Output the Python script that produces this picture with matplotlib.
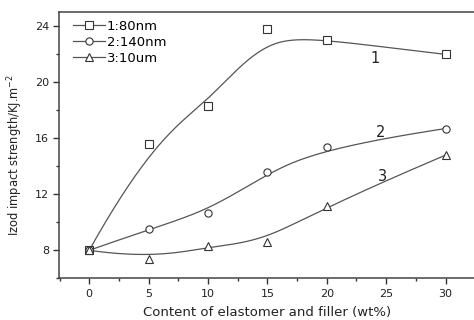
import numpy as np
import matplotlib
matplotlib.use("Agg")
import matplotlib.pyplot as plt
from matplotlib.lines import Line2D
from matplotlib.ticker import MultipleLocator

plt.rcParams['font.family'] = ['DejaVu Sans']

content = [0, 5, 10, 15, 20, 30]
s1_80nm = [8.0, 15.6, 18.3, 23.8, 23.0, 22.0]
s2_140nm = [8.0, 9.5, 10.7, 13.6, 15.4, 16.7]
s3_10um = [8.0, 7.4, 8.3, 8.6, 11.2, 14.8]
labels = ['1:80nm', '2:140nm', '3:10um']
curve_ids = ['1', '2', '3']
xlabel = 'Content of elastomer and filler (wt%)'
ylabel = 'Izod impact strength/KJ.m$^{-2}$'


def bspline(xs, ys, k=3, n=300):
    P = np.column_stack([xs, ys]).astype(float)
    m = len(P)
    inner = np.linspace(0, 1, m - k + 1)[1:-1]
    t = np.concatenate([np.zeros(k + 1), inner, np.ones(k + 1)])
    us = np.linspace(0, 1, n)
    out = []
    for u in us:
        N = np.zeros(len(t) - 1)
        for i in range(len(t) - 1):
            if t[i] <= u < t[i + 1]:
                N[i] = 1.0
        if u >= 1.0:
            N[m - 1] = 1.0
        for d in range(1, k + 1):
            Nn = np.zeros(len(t) - 1 - d)
            for i in range(len(t) - 1 - d):
                a = 0.0
                if t[i + d] != t[i]:
                    a = (u - t[i]) / (t[i + d] - t[i]) * N[i]
                b = 0.0
                if t[i + d + 1] != t[i + 1]:
                    b = (t[i + d + 1] - u) / (t[i + d + 1] - t[i + 1]) * N[i + 1]
                Nn[i] = a + b
            N = Nn
        out.append(N[:m] @ P)
    out = np.array(out)
    return out[:, 0], out[:, 1]


fig = plt.figure(figsize=(4.74, 3.2), dpi=100)
ax = fig.add_axes([0.1251, 0.1303, 0.875, 0.831])

markers = ['s', 'o', '^']
series = [s1_80nm, s2_140nm, s3_10um]
lc = '#555555'
for ys, mk in zip(series, markers):
    cx, cy = bspline(content, ys)
    ax.plot(cx, cy, color=lc, lw=0.9)
    ax.plot(content, ys, linestyle='none', marker=mk, ms=5.2, mfc='white',
            mec='#333333', mew=0.8, clip_on=False, zorder=3)

label_pos = [(24.1, 21.7), (24.5, 16.4), (24.7, 13.3)]
for cid, (lx, ly) in zip(curve_ids, label_pos):
    ax.text(lx, ly, cid, fontsize=10.5, ha='center', va='center', color='#222222')

handles = [Line2D([], [], color=lc, lw=0.9, marker=mk, ms=5.2, mfc='white',
                  mec='#333333', mew=0.8) for mk in markers]
ax.legend(handles, labels, loc='upper left', frameon=False, fontsize=9.5,
          handlelength=2.4, handletextpad=0.15, labelspacing=0.22,
          borderpad=0, borderaxespad=0,
          bbox_to_anchor=(14 / 414.75, 1 - 7.5 / 266))

ax.set_xlim(-2.52, 32.4)
ax.set_ylim(6, 25)
ax.xaxis.set_minor_locator(MultipleLocator(2.5))
ax.yaxis.set_minor_locator(MultipleLocator(2))
ax.set_xticks([0, 5, 10, 15, 20, 25, 30])
ax.set_yticks([8, 12, 16, 20, 24])
ax.tick_params(which='major', direction='out', length=4, width=1, labelsize=8,
               color='#333333', labelcolor='#222222')
ax.tick_params(which='minor', direction='out', length=2.5, width=1, color='#333333')
ax.spines['right'].set_visible(False)
for s in ['left', 'bottom', 'top']:
    ax.spines[s].set_linewidth(1.1)
    ax.spines[s].set_color('#444444')

ax.set_xlabel(xlabel, fontsize=9.5, labelpad=5, color='#222222')
ax.set_ylabel(ylabel, fontsize=8.3, color='#222222')
ax.yaxis.set_label_coords(-0.083, 0.464)

fig.savefig('out.png', dpi=100)
